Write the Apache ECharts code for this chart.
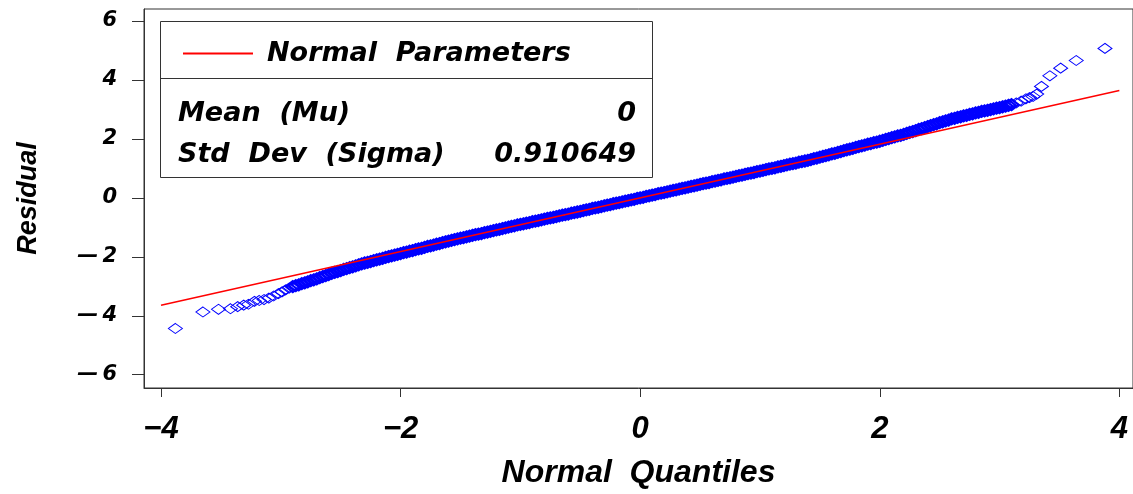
<!DOCTYPE html>
<html>
<head>
<meta charset="utf-8">
<script src="https://cdn.jsdelivr.net/npm/echarts@6/dist/echarts.min.js"></script>
<style>
  html, body { margin: 0; padding: 0; background: #fff; }
  #chart { width: 1133px; height: 494px; }
</style>
</head>
<body>
<div id="chart"></div>
<script>
// Normal Q-Q plot of model residuals with the fitted normal reference line.

// Fitted normal parameters shown in the inset box
const statLabels = ['Mean  (Mu)', 'Std  Dev  (Sigma)'];
const statValues = [0, 0.910649];
const lineName = 'Normal  Parameters';

// Axis ticks
const xTicks = [-4, -2, 0, 2, 4];
const yTicks = [-6, -4, -2, 0, 2, 4, 6];

// Ends of the reference line, in normal-quantile units
const lineEnds = [-4, 4];

// Lower tail: [normal quantile, residual]
const lowerTail = [
  [-3.88, -4.43], [-3.65, -3.87], [-3.52, -3.78], [-3.42, -3.76], [-3.36, -3.69],
  [-3.31, -3.64], [-3.27, -3.61], [-3.22, -3.51], [-3.18, -3.48], [-3.14, -3.45],
  [-3.10, -3.40], [-3.06, -3.33], [-3.02, -3.25], [-2.99, -3.19], [-2.96, -3.12],
  [-2.93, -3.06]
];

// Body of the distribution: [normal quantile, residual]
const body = [
  [-2.900, -3.01], [-2.875, -2.98], [-2.850, -2.95], [-2.825, -2.91], [-2.800, -2.88],
  [-2.775, -2.85], [-2.750, -2.81], [-2.725, -2.78], [-2.700, -2.75], [-2.675, -2.71],
  [-2.650, -2.67], [-2.625, -2.64], [-2.600, -2.60], [-2.575, -2.56], [-2.550, -2.53],
  [-2.525, -2.50], [-2.500, -2.47], [-2.475, -2.43], [-2.450, -2.40], [-2.425, -2.37],
  [-2.400, -2.34], [-2.375, -2.31], [-2.350, -2.27], [-2.325, -2.24], [-2.300, -2.21],
  [-2.275, -2.19], [-2.250, -2.16], [-2.225, -2.13], [-2.200, -2.10], [-2.175, -2.08],
  [-2.150, -2.05], [-2.125, -2.02], [-2.100, -1.99], [-2.075, -1.97], [-2.050, -1.94],
  [-2.025, -1.92], [-2.000, -1.89], [-1.975, -1.86], [-1.950, -1.84], [-1.925, -1.81],
  [-1.900, -1.79], [-1.875, -1.76], [-1.850, -1.73], [-1.825, -1.71], [-1.800, -1.68],
  [-1.775, -1.65], [-1.750, -1.63], [-1.725, -1.60], [-1.700, -1.57], [-1.675, -1.55],
  [-1.650, -1.52], [-1.625, -1.49], [-1.600, -1.47], [-1.575, -1.44], [-1.550, -1.42],
  [-1.525, -1.39], [-1.500, -1.37], [-1.475, -1.35], [-1.450, -1.32], [-1.425, -1.30],
  [-1.400, -1.27], [-1.375, -1.25], [-1.350, -1.23], [-1.325, -1.21], [-1.300, -1.18],
  [-1.275, -1.16], [-1.250, -1.14], [-1.225, -1.11], [-1.200, -1.09], [-1.175, -1.07],
  [-1.150, -1.04], [-1.125, -1.02], [-1.100, -0.99], [-1.075, -0.97], [-1.050, -0.95],
  [-1.025, -0.92], [-1.000, -0.90], [-0.975, -0.88], [-0.950, -0.86], [-0.925, -0.84],
  [-0.900, -0.81], [-0.875, -0.79], [-0.850, -0.77], [-0.825, -0.75], [-0.800, -0.72],
  [-0.775, -0.70], [-0.750, -0.68], [-0.725, -0.66], [-0.700, -0.64], [-0.675, -0.61],
  [-0.650, -0.59], [-0.625, -0.57], [-0.600, -0.55], [-0.575, -0.52], [-0.550, -0.50],
  [-0.525, -0.48], [-0.500, -0.46], [-0.475, -0.43], [-0.450, -0.41], [-0.425, -0.39],
  [-0.400, -0.36], [-0.375, -0.34], [-0.350, -0.32], [-0.325, -0.30], [-0.300, -0.27],
  [-0.275, -0.25], [-0.250, -0.23], [-0.225, -0.20], [-0.200, -0.18], [-0.175, -0.16],
  [-0.150, -0.14], [-0.125, -0.11], [-0.100, -0.09], [-0.075, -0.07], [-0.050, -0.05],
  [-0.025, -0.02], [0.000, 0.00], [0.025, 0.02], [0.050, 0.05], [0.075, 0.07],
  [0.100, 0.09], [0.125, 0.11], [0.150, 0.14], [0.175, 0.16], [0.200, 0.18],
  [0.225, 0.20], [0.250, 0.23], [0.275, 0.25], [0.300, 0.27], [0.325, 0.30],
  [0.350, 0.32], [0.375, 0.34], [0.400, 0.36], [0.425, 0.39], [0.450, 0.41],
  [0.475, 0.43], [0.500, 0.46], [0.525, 0.48], [0.550, 0.50], [0.575, 0.52],
  [0.600, 0.55], [0.625, 0.57], [0.650, 0.59], [0.675, 0.61], [0.700, 0.64],
  [0.725, 0.66], [0.750, 0.68], [0.775, 0.70], [0.800, 0.73], [0.825, 0.75],
  [0.850, 0.77], [0.875, 0.80], [0.900, 0.82], [0.925, 0.84], [0.950, 0.86],
  [0.975, 0.89], [1.000, 0.91], [1.025, 0.93], [1.050, 0.96], [1.075, 0.98],
  [1.100, 1.00], [1.125, 1.02], [1.150, 1.05], [1.175, 1.07], [1.200, 1.09],
  [1.225, 1.12], [1.250, 1.14], [1.275, 1.16], [1.300, 1.18], [1.325, 1.21],
  [1.350, 1.23], [1.375, 1.25], [1.400, 1.27], [1.425, 1.30], [1.450, 1.33],
  [1.475, 1.35], [1.500, 1.38], [1.525, 1.41], [1.550, 1.43], [1.575, 1.46],
  [1.600, 1.49], [1.625, 1.51], [1.650, 1.54], [1.675, 1.57], [1.700, 1.60],
  [1.725, 1.63], [1.750, 1.65], [1.775, 1.68], [1.800, 1.71], [1.825, 1.74],
  [1.850, 1.76], [1.875, 1.79], [1.900, 1.82], [1.925, 1.84], [1.950, 1.87],
  [1.975, 1.89], [2.000, 1.92], [2.025, 1.95], [2.050, 1.98], [2.075, 2.01],
  [2.100, 2.04], [2.125, 2.07], [2.150, 2.10], [2.175, 2.12], [2.200, 2.15],
  [2.225, 2.19], [2.250, 2.22], [2.275, 2.25], [2.300, 2.28], [2.325, 2.32],
  [2.350, 2.35], [2.375, 2.38], [2.400, 2.42], [2.425, 2.45], [2.450, 2.48],
  [2.475, 2.51], [2.500, 2.55], [2.525, 2.58], [2.550, 2.61], [2.575, 2.64],
  [2.600, 2.68], [2.625, 2.70], [2.650, 2.73], [2.675, 2.75], [2.700, 2.78],
  [2.725, 2.80], [2.750, 2.83], [2.775, 2.85], [2.800, 2.88], [2.825, 2.90],
  [2.850, 2.93], [2.875, 2.95], [2.900, 2.97], [2.925, 2.99], [2.950, 3.02],
  [2.975, 3.04], [3.000, 3.06], [3.025, 3.09], [3.050, 3.11], [3.075, 3.14],
  [3.100, 3.16]
];

// Upper tail: [normal quantile, residual]
const upperTail = [
  [3.14, 3.22], [3.18, 3.28], [3.22, 3.36], [3.25, 3.40], [3.28, 3.44],
  [3.31, 3.52], [3.35, 3.78], [3.42, 4.14], [3.51, 4.40], [3.64, 4.66],
  [3.88, 5.07]
];

const tailPoints = lowerTail.concat(upperTail);

const mu = statValues[0];
const sigma = statValues[1];
const normalLine = lineEnds.map(q => [q, mu + sigma * q]);

const fmtYTick = v => (v < 0 ? '\u2014\u2009' + Math.abs(v) : String(v));
const fmtXTick = v => (v < 0 ? '\u2212' + Math.abs(v) : String(v));

const chart = echarts.init(document.getElementById('chart'), null, { renderer: 'canvas' });

const boxFont = 'italic bold 27px "DejaVu Sans"';
const diamondStyle = (w) => ({
  color: 'rgba(0,0,0,0)', borderColor: '#0000ff', borderWidth: w, opacity: 1
});

chart.setOption({
  animation: false,
  backgroundColor: '#ffffff',
  grid: {
    left: 144, right: 0, top: 9, bottom: 105,
    show: true, borderColor: '#333', borderWidth: 1, backgroundColor: 'transparent'
  },
  legend: {
    data: [lineName],
    left: 178, top: 35,
    icon: 'rect',
    itemWidth: 70, itemHeight: 2,
    selectedMode: false,
    textStyle: {
      fontFamily: 'DejaVu Sans', fontWeight: 'bold', fontStyle: 'italic',
      fontSize: 27, color: '#000', padding: [0, 0, 0, 9]
    }
  },
  xAxis: {
    type: 'value',
    min: -4.142, max: 4.114,
    name: 'Normal  Quantiles',
    nameLocation: 'middle',
    nameGap: 69,
    nameTextStyle: {
      fontFamily: 'Liberation Sans', fontWeight: 'bold', fontStyle: 'italic',
      fontSize: 32, color: '#000'
    },
    axisLine: { show: true, onZero: false, lineStyle: { color: '#333', width: 1 } },
    axisTick: { show: true, length: 9, customValues: xTicks, lineStyle: { color: '#333' } },
    axisLabel: {
      customValues: xTicks, formatter: fmtXTick, margin: 26,
      fontFamily: 'Liberation Sans', fontWeight: 'bold', fontStyle: 'italic',
      fontSize: 31, color: '#000'
    },
    splitLine: { show: false }
  },
  yAxis: {
    type: 'value',
    min: -6.45, max: 6.406,
    name: 'Residual',
    nameLocation: 'middle',
    nameGap: 102,
    nameRotate: 90,
    nameTextStyle: {
      fontFamily: 'Liberation Sans', fontWeight: 'bold', fontStyle: 'italic',
      fontSize: 27, color: '#000'
    },
    axisLine: { show: true, onZero: false, lineStyle: { color: '#333', width: 1 } },
    axisTick: { show: true, length: 12, customValues: yTicks, lineStyle: { color: '#333' } },
    axisLabel: {
      customValues: yTicks, formatter: fmtYTick, margin: 27,
      fontFamily: 'DejaVu Sans', fontWeight: 'bold', fontStyle: 'italic',
      fontSize: 21, color: '#000'
    },
    splitLine: { show: false }
  },
  graphic: [
    {
      type: 'rect', silent: true, z: 1,
      shape: { x: 160.5, y: 21.5, width: 492, height: 156 },
      style: { fill: '#fff', stroke: '#333', lineWidth: 1 }
    },
    {
      type: 'line', silent: true, z: 2,
      shape: { x1: 160.5, y1: 78.5, x2: 652.5, y2: 78.5 },
      style: { stroke: '#333', lineWidth: 1 }
    },
    {
      type: 'text', silent: true, z: 2,
      style: { text: statLabels[0], x: 178, y: 114, verticalAlign: 'middle', font: boxFont, fill: '#000' }
    },
    {
      type: 'text', silent: true, z: 2,
      style: { text: String(statValues[0]), x: 636, y: 114, align: 'right', verticalAlign: 'middle', font: boxFont, fill: '#000' }
    },
    {
      type: 'text', silent: true, z: 2,
      style: { text: statLabels[1], x: 178, y: 155, verticalAlign: 'middle', font: boxFont, fill: '#000' }
    },
    {
      type: 'text', silent: true, z: 2,
      style: { text: String(statValues[1]), x: 636, y: 155, align: 'right', verticalAlign: 'middle', font: boxFont, fill: '#000' }
    }
  ],
  series: [
    {
      name: 'Residual',
      type: 'scatter',
      data: body,
      symbol: 'diamond',
      symbolSize: [14, 11],
      itemStyle: diamondStyle(2.2),
      emphasis: { disabled: true },
      z: 3
    },
    {
      name: 'Residual',
      type: 'scatter',
      data: tailPoints,
      symbol: 'diamond',
      symbolSize: [14, 10],
      itemStyle: diamondStyle(1),
      emphasis: { disabled: true },
      z: 3
    },
    {
      name: lineName,
      type: 'line',
      data: normalLine,
      symbol: 'none',
      lineStyle: { color: '#ff0000', width: 1.5 },
      itemStyle: { color: '#ff0000' },
      emphasis: { disabled: true },
      z: 4
    }
  ]
});
</script>
</body>
</html>
